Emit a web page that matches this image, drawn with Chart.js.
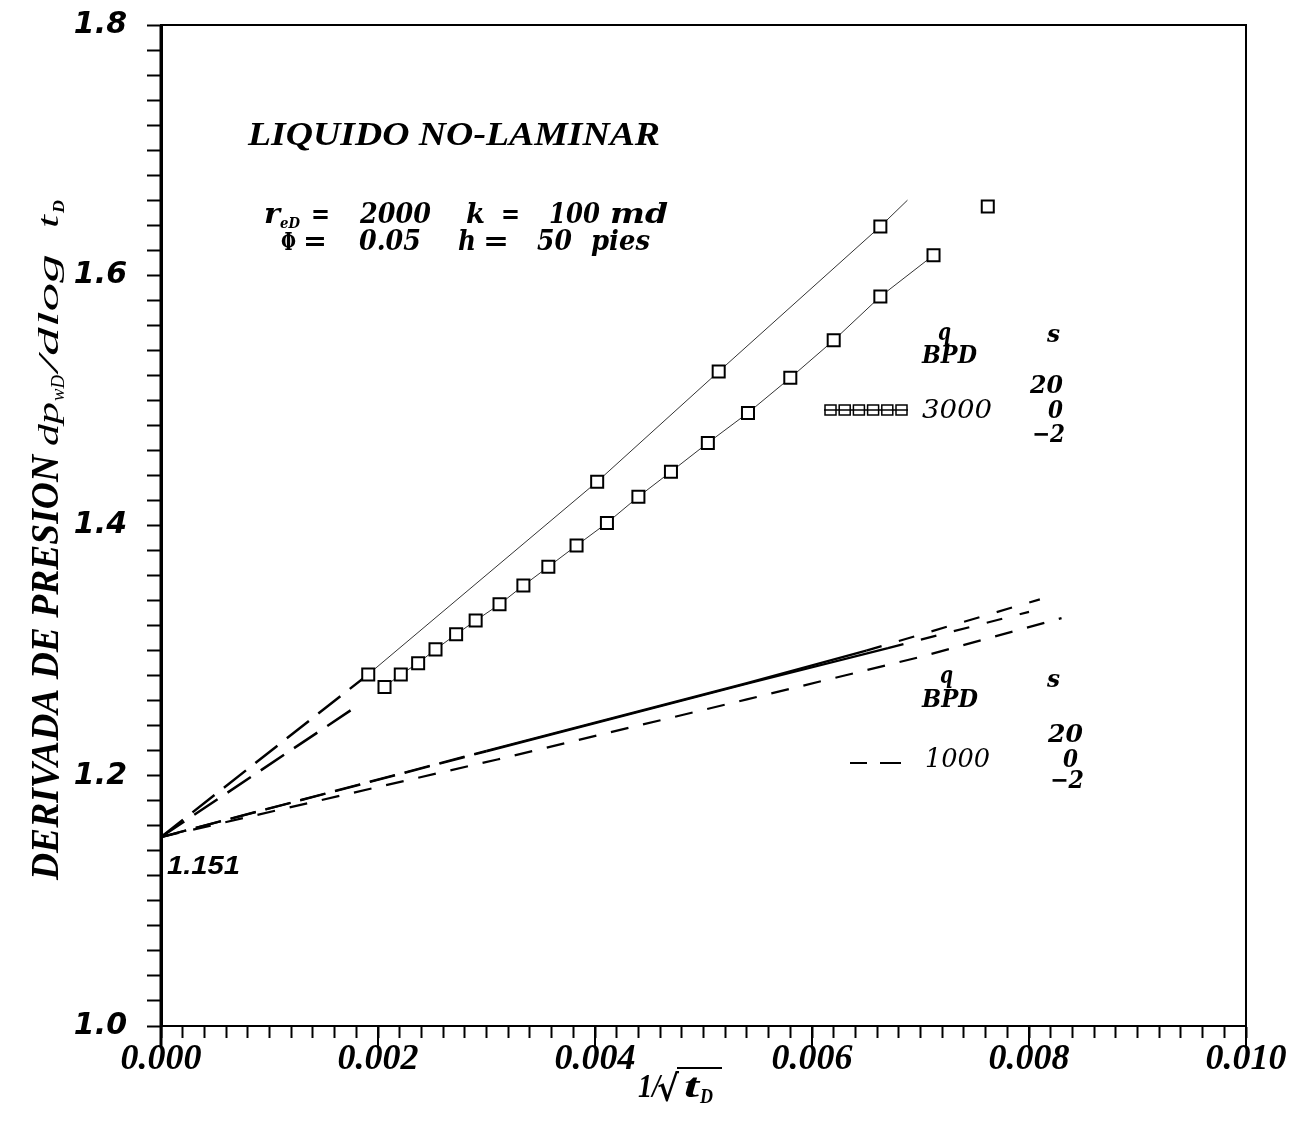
<!DOCTYPE html>
<html>
<head>
<meta charset="utf-8">
<title>Derivada de presion</title>
<script src="https://cdn.jsdelivr.net/npm/chart.js@4.4.1/dist/chart.umd.min.js"></script>
<style>
body { margin: 0; background: #fff; }
canvas { display: block; }
</style>
</head>
<body>
<canvas id="grafic" width="1305" height="1126"></canvas>
<script>
// etiquetas de los ejes
const x_ticks = [0.000, 0.002, 0.004, 0.006, 0.008, 0.010];
const y_ticks = [1.0, 1.2, 1.4, 1.6, 1.8];

// q = 3000 BPD, extrapolaciones hasta 1/sqrt(tD) = 0
const ext3000_s20_x = [0, 0.00191];
const ext3000_s20_y = [1.151, 1.281];
const ext3000_s0_x = [0, 0.00176];
const ext3000_s0_y = [1.151, 1.253];

// q = 3000 BPD, s = 20 (el ultimo punto no tiene marca)
const q3000_s20_x = [0.00191, 0.00402, 0.00514, 0.00663, 0.00688];
const q3000_s20_y = [1.281, 1.435, 1.523, 1.639, 1.660];

// q = 3000 BPD, s = 0
const q3000_s0_x = [0.00206, 0.00221, 0.00237, 0.00253, 0.00272, 0.00290, 0.00312, 0.00334, 0.00357, 0.00383,
                    0.00411, 0.00440, 0.00470, 0.00504, 0.00541, 0.00580, 0.00620, 0.00663, 0.00712, 0.00762];
const q3000_s0_y = [1.271, 1.281, 1.290, 1.301, 1.313, 1.324, 1.337, 1.352, 1.367, 1.384,
                    1.402, 1.423, 1.443, 1.466, 1.490, 1.518, 1.548, 1.583, 1.616, 1.655];

// q = 1000 BPD
const q1000_s20_x = [0, 0.0030, 0.0054, 0.0065, 0.0081];
const q1000_s20_y = [1.151, 1.220, 1.274, 1.300, 1.341];
const q1000_s0_x = [0, 0.0030, 0.0054, 0.0067, 0.0080];
const q1000_s0_y = [1.151, 1.2195, 1.2735, 1.302, 1.331];
const q1000_sm2_x = [0, 0.0031, 0.0054, 0.0070, 0.0083];
const q1000_sm2_y = [1.151, 1.213, 1.261, 1.295, 1.326];

function puntos(xs, ys) {
    return xs.map((x, i) => ({x: x, y: ys[i]}));
}

function texto(ctx, t, x, y, ancho, fuente) {
    ctx.save();
    ctx.font = fuente;
    ctx.textAlign = "left";
    ctx.textBaseline = "alphabetic";
    ctx.fillStyle = "#000";
    const w = ctx.measureText(t).width;
    ctx.translate(x, y);
    if (ancho) ctx.scale(ancho / w, 1);
    ctx.fillText(t, 0, 0);
    ctx.restore();
}

function es_mayor(v, lista) {
    return lista.some(t => Math.abs(t - v) < 1e-9);
}

const SERIF = '"Liberation Serif"';
const DJS = '"DejaVu Serif"';

const dibujo = {
    id: "dibujo",
    afterDraw(chart) {
        const ctx = chart.ctx;
        const a = chart.chartArea;
        const sx = chart.scales.x;

        // marco completo
        ctx.save();
        ctx.strokeStyle = "#000";
        ctx.lineWidth = 2;
        ctx.strokeRect(a.left, a.top, a.right - a.left, a.bottom - a.top);
        ctx.lineWidth = 3;
        ctx.beginPath();
        ctx.moveTo(a.left, a.top);
        ctx.lineTo(a.left, a.bottom + 21);
        ctx.stroke();
        // marcas mayores del eje x
        ctx.lineWidth = 2;
        x_ticks.forEach(v => {
            const px = sx.getPixelForValue(v);
            ctx.beginPath();
            ctx.moveTo(px, a.bottom);
            ctx.lineTo(px, a.bottom + 21);
            ctx.stroke();
        });
        ctx.restore();

        // titulo y parametros
        texto(ctx, "LIQUIDO NO-LAMINAR", 248, 145, 412, "italic bold 34px " + SERIF);
        const f1 = "italic bold 27px " + DJS;
        texto(ctx, "r", 264, 223, 16, f1);
        texto(ctx, "eD", 280, 228, 20, "italic bold 15px " + DJS);
        texto(ctx, "=", 311, 223, 19, f1);
        texto(ctx, "2000", 360, 223, 71, f1);
        texto(ctx, "k", 466, 223, 19, f1);
        texto(ctx, "=", 501, 223, 19, f1);
        texto(ctx, "100", 549, 223, 51, f1);
        texto(ctx, "md", 610, 223, 58, f1);
        texto(ctx, "Φ", 281, 250, 15, "bold 24px " + DJS);
        texto(ctx, "=", 303, 250, 24, f1);
        texto(ctx, "0.05", 359, 250, 62, f1);
        texto(ctx, "h", 458, 250, 18, f1);
        texto(ctx, "=", 483, 250, 26, f1);
        texto(ctx, "50", 537, 250, 35, f1);
        texto(ctx, "pies", 591, 250, 59, f1);

        // leyenda 3000 BPD
        const f2 = "italic bold 24px " + DJS;
        const f3 = "italic 26px " + DJS;
        texto(ctx, "q", 938, 340, 13, f2);
        texto(ctx, "s", 1047, 342, 13, f2);
        texto(ctx, "BPD", 922, 363, 55, f2);
        texto(ctx, "20", 1030, 393, 33, f2);
        texto(ctx, "3000", 922, 418, 70, f3);
        texto(ctx, "0", 1048, 418, 15, f2);
        texto(ctx, "−2", 1032, 442, 33, f2);
        ctx.save();
        ctx.strokeStyle = "#000";
        ctx.lineWidth = 1.5;
        for (let i = 0; i < 6; i++) {
            ctx.fillStyle = "#fff";
            ctx.fillRect(825 + i * 14.2, 405, 11, 10);
            ctx.strokeRect(825 + i * 14.2, 405, 11, 10);
        }
        ctx.beginPath();
        ctx.moveTo(824, 410);
        ctx.lineTo(908, 410);
        ctx.stroke();
        ctx.restore();

        // leyenda 1000 BPD
        texto(ctx, "q", 940, 683, 13, f2);
        texto(ctx, "s", 1047, 687, 13, f2);
        texto(ctx, "BPD", 922, 707, 56, f2);
        texto(ctx, "20", 1048, 742, 35, f2);
        texto(ctx, "1000", 925, 767, 65, f3);
        texto(ctx, "0", 1063, 767, 15, f2);
        texto(ctx, "−2", 1050, 788, 34, f2);
        ctx.save();
        ctx.strokeStyle = "#000";
        ctx.lineWidth = 2;
        ctx.beginPath();
        ctx.moveTo(850, 763); ctx.lineTo(867, 763);
        ctx.moveTo(880, 763); ctx.lineTo(901, 763);
        ctx.stroke();
        ctx.restore();

        // valor del intercepto
        texto(ctx, "1.151", 167, 874, 73, "italic bold 26px \"Liberation Sans\"");

        // titulo eje x
        const fx = "italic bold 34px " + SERIF;
        texto(ctx, "1/", 638, 1097, 22, fx);
        texto(ctx, "√", 657, 1101, 22, "bold 36px " + DJS);
        texto(ctx, "t", 684, 1097, 15, fx);
        texto(ctx, "D", 700, 1103, 13, "italic bold 20px " + SERIF);
        ctx.save();
        ctx.strokeStyle = "#000";
        ctx.lineWidth = 2;
        ctx.beginPath();
        ctx.moveTo(677, 1068);
        ctx.lineTo(722, 1068);
        ctx.stroke();
        ctx.restore();

        // titulo eje y (girado)
        ctx.save();
        ctx.translate(58, 880);
        ctx.rotate(-Math.PI / 2);
        texto(ctx, "DERIVADA DE PRESION", 0, 0, 425, "italic bold 40px " + SERIF);
        const fy = "italic 30px " + SERIF;
        texto(ctx, "dp", 434, 0, 44, fy);
        texto(ctx, "wD", 479, 6, 26, "italic 18px " + SERIF);
        texto(ctx, "/dlog", 508, 0, 118, fy);
        texto(ctx, "t", 652, 0, 13, fy);
        texto(ctx, "D", 667, 6, 13, "italic bold 17px " + SERIF);
        ctx.restore();
    }
};

function linea(xs, ys, opts) {
    return Object.assign({
        data: puntos(xs, ys),
        showLine: true,
        borderColor: "#000",
        backgroundColor: "#fff",
        borderWidth: 2.5,
        pointRadius: 0,
        order: 2
    }, opts);
}

const n20 = q3000_s20_x.length - 1;

const datasets = [
    linea(ext3000_s20_x, ext3000_s20_y, {borderDash: [28, 12]}),
    linea(ext3000_s0_x, ext3000_s0_y, {borderDash: [28, 12]}),
    linea(q3000_s20_x, q3000_s20_y, {
        borderWidth: 1,
        borderColor: "#333",
        pointRadius: q3000_s20_x.map((_, i) => i < n20 ? 8.5 : 0),
        pointStyle: "rect",
        pointBorderColor: "#000",
        pointBackgroundColor: "#fff",
        pointBorderWidth: 2,
        order: 0
    }),
    linea(q3000_s0_x, q3000_s0_y, {
        borderWidth: 1,
        borderColor: "#333",
        segment: {
            borderColor: c => c.p0.parsed.x > 0.0071 ? "rgba(0,0,0,0)" : "#333"
        },
        pointRadius: 8.5,
        pointStyle: "rect",
        pointBorderColor: "#000",
        pointBackgroundColor: "#fff",
        pointBorderWidth: 2,
        order: 0
    }),
    linea(q1000_s20_x, q1000_s20_y, {
        borderWidth: 2.2,
        segment: {
            borderDash: c => c.p0.parsed.x < 0.0029 ? [26, 10] : (c.p0.parsed.x > 0.0064 ? [16, 18] : [])
        }
    }),
    linea(q1000_s0_x, q1000_s0_y, {
        borderWidth: 2.2,
        segment: {
            borderDash: c => c.p0.parsed.x < 0.0029 ? [26, 10] : (c.p0.parsed.x > 0.0066 ? [16, 18] : [])
        }
    }),
    linea(q1000_sm2_x, q1000_sm2_y, {borderWidth: 2.2, borderDash: [18, 15]})
];

const config = {
    type: "scatter",
    data: {datasets: datasets},
    options: {
        responsive: false,
        animation: false,
        devicePixelRatio: 1,
        layout: {padding: {top: 25, right: 59, left: 0, bottom: 0}},
        plugins: {
            legend: {display: false},
            tooltip: {enabled: false}
        },
        scales: {
            x: {
                type: "linear",
                min: 0,
                max: 0.010,
                afterFit: s => {
                    s.height = 100;
                    s.paddingLeft = 0;
                    s.paddingRight = 0;
                },
                border: {color: "#000", width: 2},
                grid: {drawOnChartArea: false, tickLength: 12, tickColor: "#000", tickWidth: 2},
                ticks: {
                    stepSize: 0.0002,
                    autoSkip: false,
                    maxRotation: 0,
                    padding: 0,
                    color: "#000",
                    font: {family: "Liberation Serif", size: 36, style: "italic", weight: "bold"},
                    callback: v => es_mayor(v, x_ticks) ? v.toFixed(3) : ""
                }
            },
            y: {
                type: "linear",
                min: 1.0,
                max: 1.8,
                afterFit: s => {
                    s.width = 161;
                    s.paddingTop = 0;
                    s.paddingBottom = 0;
                },
                border: {color: "#000", width: 3},
                grid: {drawOnChartArea: false, tickLength: 14, tickColor: "#000", tickWidth: 2},
                ticks: {
                    stepSize: 0.02,
                    autoSkip: false,
                    padding: 20,
                    color: "#000",
                    font: {family: "DejaVu Sans", size: 30, style: "italic", weight: "bold"},
                    callback: v => es_mayor(v, y_ticks) ? v.toFixed(1) : ""
                }
            }
        }
    },
    plugins: [dibujo]
};

const grafica = new Chart(document.getElementById("grafic"), config);
</script>
</body>
</html>
